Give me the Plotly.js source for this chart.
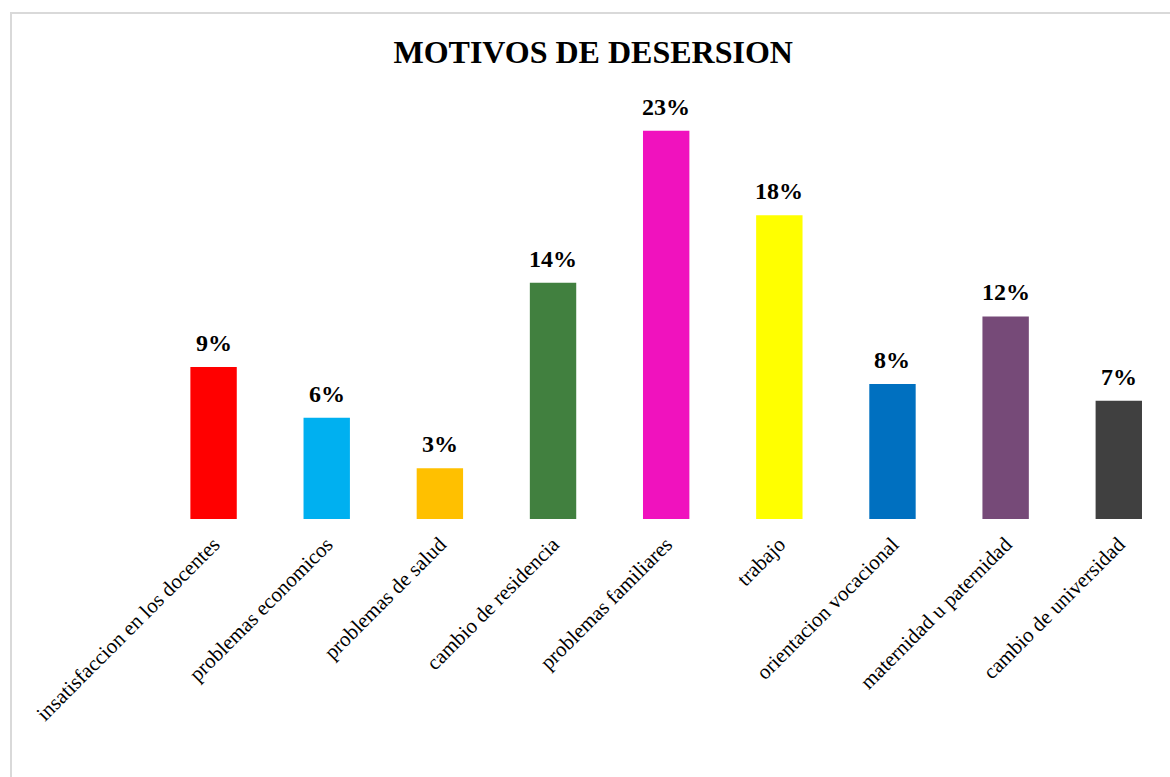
<!DOCTYPE html>
<html>
<head>
<meta charset="utf-8">
<script src="https://cdn.plot.ly/plotly-3.0.1.min.js"></script>
<style>
html,body{margin:0;padding:0;background:#fff;}
#wrap{position:relative;width:1170px;height:777px;overflow:hidden;}
#chart{width:1170px;height:777px;}
#frame{position:absolute;left:10px;top:12px;width:1200px;height:800px;border:2px solid #d9d9d9;pointer-events:none;box-sizing:border-box;}
</style>
</head>
<body>
<div id="wrap"><div id="chart"></div><div id="frame"></div></div>
<script>
const categories = ["insatisfaccion en los docentes","problemas economicos","problemas de salud","cambio de residencia","problemas familiares","trabajo","orientacion vocacional","maternidad u paternidad","cambio de universidad"];
const values = [9, 6, 3, 14, 23, 18, 8, 12, 7];
const labels = ["9%","6%","3%","14%","23%","18%","8%","12%","7%"];
const colors = ["#FF0000","#00B0F0","#FFC000","#41803F","#F012BE","#FFFF00","#0070C0","#764A78","#404040"];

const serif = "Liberation Serif, Times New Roman, serif";

const trace = {
  type: "bar",
  x: categories,
  y: values,
  width: 0.41,
  marker: {color: colors, line: {width: 0}},
  hoverinfo: "skip"
};

const annotations = categories.map((c, i) => ({
  x: c, y: values[i], xref: "x", yref: "y",
  text: "<b>" + labels[i] + "</b>",
  showarrow: false, yanchor: "bottom", yshift: 9,
  font: {family: serif, size: 24, color: "#000"}
}));

const layout = {
  width: 1170, height: 777,
  paper_bgcolor: "#fff", plot_bgcolor: "#fff",
  margin: {l: 157, r: 15, t: 97, b: 258},
  title: {text: "<b>MOTIVOS DE DESERSION</b>", font: {family: serif, size: 32, color: "#000"}, x: 0.507, xanchor: "center", y: 0.933, yanchor: "middle"},
  xaxis: {type: "category", range: [-0.5, 8.32], tickangle: -45, showgrid: false, showline: false, zeroline: false, ticks: "", ticklabelstandoff: 8, tickfont: {family: serif, size: 21, color: "#000"}, fixedrange: true},
  yaxis: {range: [0, 25], visible: false, showgrid: false, zeroline: false, fixedrange: true},
  showlegend: false,
  annotations: annotations
};

Plotly.newPlot("chart", [trace], layout, {displayModeBar: false, staticPlot: true});
</script>
</body>
</html>
